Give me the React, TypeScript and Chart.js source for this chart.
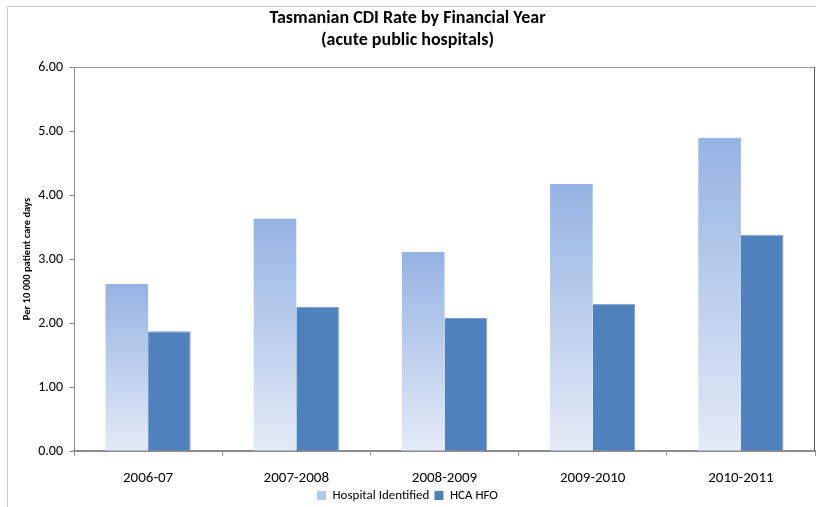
import React, { useEffect, useRef } from "react";
import { Chart, registerables } from "chart.js";

Chart.register(...registerables);

const categories = ["2006-07", "2007-2008", "2008-2009", "2009-2010", "2010-2011"];
const hospitalIdentified = [2.61, 3.63, 3.11, 4.17, 4.89];
const hcaHfo = [1.87, 2.25, 2.08, 2.3, 3.38];
const yTicks = [0, 1, 2, 3, 4, 5, 6];
const titleLines = ["Tasmanian CDI Rate by Financial Year", "(acute public hospitals)"];
const yTitle = "Per 10 000 patient care days";

const FONT = "Carlito, 'Liberation Sans Narrow', 'Open Sans', sans-serif";

const framePlugin = {
  id: "frame",
  beforeDraw(chart: any) {
    const ctx = chart.ctx;
    ctx.save();
    ctx.strokeStyle = "#c8c8c8";
    ctx.lineWidth = 1;
    ctx.beginPath();
    ctx.moveTo(7.5, chart.height);
    ctx.lineTo(7.5, 6.5);
    ctx.lineTo(chart.width, 6.5);
    ctx.stroke();
    ctx.restore();
  },
  afterDatasetsDraw(chart: any) {
    const { left, right, top, bottom } = chart.chartArea;
    const ctx = chart.ctx;
    ctx.save();
    ctx.lineWidth = 1;
    ctx.strokeStyle = "#9a9a9a";
    ctx.beginPath();
    ctx.moveTo(left, top + 0.5);
    ctx.lineTo(right, top + 0.5);
    ctx.stroke();
    ctx.strokeStyle = "#555555";
    ctx.beginPath();
    ctx.moveTo(right - 0.5, top);
    ctx.lineTo(right - 0.5, bottom);
    ctx.stroke();
    ctx.restore();
  },
};

export default function App() {
  const ref = useRef<HTMLCanvasElement>(null);
  useEffect(() => {
    document.body.style.margin = "0";
    const canvas = ref.current!;
    const gradFill = (context: any) => {
      const chart = context.chart;
      const { chartArea, scales } = chart;
      if (!chartArea) return "#a9bfe6";
      const v = context.raw as number;
      const yTop = scales.y.getPixelForValue(v);
      const yBot = scales.y.getPixelForValue(0);
      const g = chart.ctx.createLinearGradient(0, yTop, 0, yBot);
      g.addColorStop(0, "#95b3e3");
      g.addColorStop(1, "#e4eaf6");
      return g;
    };
    const chart = new Chart(canvas, {
      type: "bar",
      data: {
        labels: categories,
        datasets: [
          {
            label: "Hospital Identified",
            data: hospitalIdentified,
            backgroundColor: gradFill,
            borderWidth: 0,
            categoryPercentage: 0.575,
            barPercentage: 1,
          },
          {
            label: "HCA HFO",
            data: hcaHfo,
            backgroundColor: "#4f81bd",
            borderColor: "#7ea1d0",
            borderWidth: { top: 1, right: 1, left: 0, bottom: 0 },
            categoryPercentage: 0.575,
            barPercentage: 1,
          },
        ],
      },
      options: {
        responsive: false,
        animation: false,
        layout: { padding: { left: 0, right: 1, top: 0, bottom: 0 } },
        plugins: {
          title: {
            display: true,
            text: titleLines,
            color: "#000000",
            font: { family: FONT, size: 18, weight: "bold", lineHeight: 1.25 },
            padding: { top: 7, bottom: 15 },
          },
          legend: {
            position: "bottom",
            maxHeight: 23,
            labels: {
              color: "#000000",
              font: { family: FONT, size: 13 },
              boxWidth: 9,
              boxHeight: 9,
              padding: 5,
              generateLabels: () => [
                { text: "Hospital Identified", fillStyle: "#b4c8ec", strokeStyle: "#b4c8ec", lineWidth: 0, datasetIndex: 0, fontColor: "#000" },
                { text: "HCA HFO", fillStyle: "#4f81bd", strokeStyle: "#4f81bd", lineWidth: 0, datasetIndex: 1, fontColor: "#000" },
              ],
            },
          },
          tooltip: { enabled: false },
        },
        scales: {
          x: {
            grid: { display: true, drawOnChartArea: false, tickLength: 5, color: "#9a9a9a", offset: true },
            border: { color: "#8c8c8c", width: 2 },
            ticks: { color: "#000000", font: { family: FONT, size: 15 }, padding: 13 },
            afterFit: (scale: any) => {
              scale.height = 33;
            },
          },
          y: {
            min: 0,
            max: 6,
            afterBuildTicks: (scale: any) => {
              scale.ticks = yTicks.map((v) => ({ value: v }));
            },
            grid: { display: true, drawOnChartArea: false, tickLength: 5, color: "#8c8c8c" },
            border: { color: "#8c8c8c", width: 1 },
            ticks: {
              color: "#000000",
              font: { family: FONT, size: 14 },
              padding: 6,
              callback: (v: any) => Number(v).toFixed(2),
            },
            title: {
              display: true,
              text: yTitle,
              color: "#000000",
              font: { family: FONT, size: 10.5, weight: "bold" },
              padding: { top: 21, bottom: 0 },
            },
            afterFit: (scale: any) => {
              scale.width = 74;
            },
          },
        },
      },
      plugins: [framePlugin],
    });
    return () => chart.destroy();
  }, []);
  return <canvas ref={ref} width={816} height={507} style={{ display: "block" }} />;
}
